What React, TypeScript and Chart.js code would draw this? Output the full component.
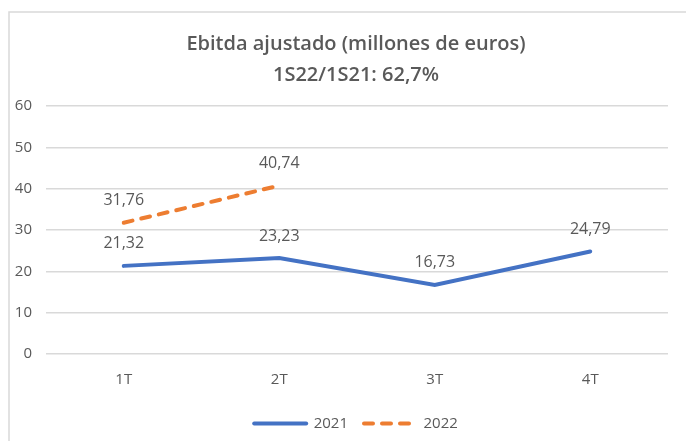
import React, { useEffect, useRef } from "react";
import { Chart, registerables } from "chart.js";

Chart.register(...registerables);

const categories = ["1T", "2T", "3T", "4T"];
const values2021 = [21.32, 23.23, 16.73, 24.79];
const values2022: (number | null)[] = [31.76, 40.74, null, null];
const titleLines = ["Ebitda ajustado (millones de euros)", "1S22/1S21: 62,7%"];

const FONT = "'Open Sans', 'Noto Sans', sans-serif";
const GREY = "#595959";

const borderPlugin = {
  id: "frameBorder",
  afterLayout(chart: any) {
    const shift = 17;
    if (chart.titleBlock) {
      chart.titleBlock.left += shift;
      chart.titleBlock.right += shift;
    }
    if (chart.legend) {
      chart.legend.left += shift;
      chart.legend.right += shift;
    }
  },
  beforeDraw(chart: any) {
    const ctx = chart.ctx;
    ctx.save();
    ctx.fillStyle = "#ffffff";
    ctx.fillRect(0, 0, chart.width, chart.height);
    ctx.strokeStyle = "#d9d9d9";
    ctx.lineWidth = 1.5;
    ctx.beginPath();
    ctx.moveTo(9, chart.height);
    ctx.lineTo(9, 12);
    ctx.lineTo(chart.width, 12);
    ctx.stroke();
    ctx.restore();
  },
};

const labelPlugin = {
  id: "valueLabels",
  afterDatasetsDraw(chart: any) {
    const ctx = chart.ctx;
    ctx.save();
    ctx.font = `16px ${FONT}`;
    ctx.fillStyle = GREY;
    ctx.textAlign = "center";
    ctx.textBaseline = "middle";
    chart.data.datasets.forEach((ds: any, i: number) => {
      const meta = chart.getDatasetMeta(i);
      meta.data.forEach((pt: any, j: number) => {
        const v = ds.data[j];
        if (v === null || v === undefined) return;
        ctx.fillText(v.toFixed(2).replace(".", ","), pt.x, pt.y - 22);
      });
    });
    ctx.restore();
  },
};

export default function App() {
  const ref = useRef<HTMLCanvasElement>(null);
  useEffect(() => {
    document.body.style.margin = "0";
    const chart = new Chart(ref.current!, {
      type: "line",
      data: {
        labels: categories,
        datasets: [
          {
            label: "2021",
            data: values2021,
            borderColor: "#4472C4",
            backgroundColor: "#4472C4",
            borderWidth: 4,
            borderCapStyle: "round",
            pointRadius: 0,
            tension: 0,
          },
          {
            label: "2022",
            data: values2022,
            borderColor: "#ED7D31",
            backgroundColor: "#ED7D31",
            borderWidth: 4,
            borderCapStyle: "round",
            borderDash: [9, 9],
            pointRadius: 0,
            tension: 0,
          },
        ],
      },
      options: {
        animation: false,
        responsive: false,
        layout: { padding: { left: 10, right: 18, top: 14, bottom: 0 } },
        plugins: {
          title: {
            display: true,
            text: titleLines,
            color: GREY,
            font: { family: FONT, size: 20, weight: "600", lineHeight: 1.55 },
            padding: { top: 15, bottom: 15 },
          },
          legend: {
            position: "bottom",
            labels: {
              usePointStyle: true,
              pointStyle: "line",
              pointStyleWidth: 52,
              boxWidth: 52,
              boxHeight: 15,
              color: GREY,
              padding: 16,
              font: { family: FONT, size: 15 },
              generateLabels(chart: any) {
                return chart.data.datasets.map((ds: any, i: number) => ({
                  text: ds.label,
                  fillStyle: ds.borderColor,
                  strokeStyle: ds.borderColor,
                  lineWidth: ds.borderWidth,
                  lineDash: ds.borderDash || [],
                  lineCap: ds.borderCapStyle,
                  pointStyle: "line",
                  fontColor: GREY,
                  hidden: false,
                  datasetIndex: i,
                }));
              },
            },
          },
          tooltip: { enabled: false },
        },
        scales: {
          x: {
            offset: true,
            grid: { display: false },
            border: { display: false },
            ticks: { color: GREY, font: { family: FONT, size: 15 }, padding: 9 },
            afterFit(scale: any) {
              scale.height = 46;
            },
          },
          y: {
            min: 0,
            max: 60,
            ticks: { stepSize: 10, color: GREY, font: { family: FONT, size: 15 }, padding: 14 },
            grid: { color: "#d9d9d9", lineWidth: 1.5, drawTicks: false },
            border: { display: false },
            afterFit(scale: any) {
              scale.width = 36;
            },
          },
        },
      },
      plugins: [borderPlugin, labelPlugin],
    } as any);
    return () => chart.destroy();
  }, []);
  return <canvas ref={ref} width={686} height={441} style={{ display: "block" }} />;
}
